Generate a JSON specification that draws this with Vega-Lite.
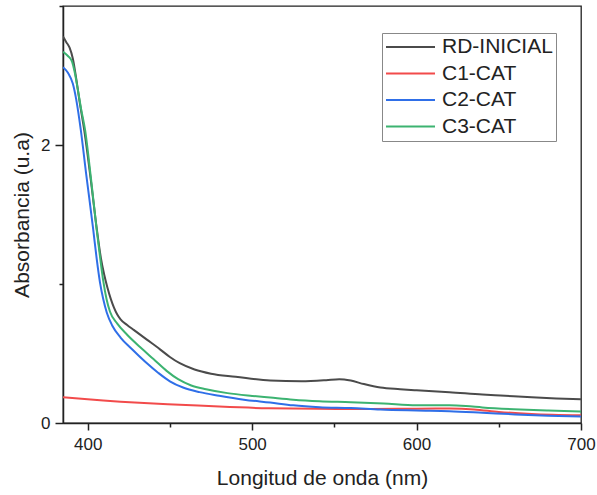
{
  "$schema": "https://vega.github.io/schema/vega-lite/v6.json",
  "autosize": "none",
  "width": 518,
  "height": 417,
  "padding": {"left": 63, "top": 6, "right": 16, "bottom": 72},
  "background": "white",
  "config": {
    "view": {"stroke": "#222", "strokeWidth": 1.3},
    "font": "Liberation Sans",
    "axis": {
      "domainColor": "#222", "domainWidth": 1.5, "tickColor": "#222", "tickWidth": 1.5,
      "labelFont": "Liberation Sans", "labelFontSize": 17, "labelColor": "#222",
      "titleFont": "Liberation Sans", "titleFontSize": 21, "titleFontWeight": "normal", "titleColor": "#222",
      "grid": false
    }
  },
  "data": {"values": [
    {"x":385,"y":2.78,"s":"RD-INICIAL"},{"x":387,"y":2.74,"s":"RD-INICIAL"},{"x":389,"y":2.70,"s":"RD-INICIAL"},{"x":391,"y":2.62,"s":"RD-INICIAL"},{"x":393,"y":2.48,"s":"RD-INICIAL"},{"x":395,"y":2.32,"s":"RD-INICIAL"},{"x":398,"y":2.10,"s":"RD-INICIAL"},{"x":402,"y":1.74,"s":"RD-INICIAL"},{"x":405.5,"y":1.40,"s":"RD-INICIAL"},{"x":408,"y":1.19,"s":"RD-INICIAL"},{"x":410,"y":1.07,"s":"RD-INICIAL"},{"x":412,"y":0.975,"s":"RD-INICIAL"},{"x":414,"y":0.895,"s":"RD-INICIAL"},{"x":416,"y":0.83,"s":"RD-INICIAL"},{"x":418,"y":0.78,"s":"RD-INICIAL"},{"x":420,"y":0.745,"s":"RD-INICIAL"},{"x":424,"y":0.705,"s":"RD-INICIAL"},{"x":428,"y":0.67,"s":"RD-INICIAL"},{"x":436,"y":0.60,"s":"RD-INICIAL"},{"x":444,"y":0.53,"s":"RD-INICIAL"},{"x":450,"y":0.475,"s":"RD-INICIAL"},{"x":456,"y":0.43,"s":"RD-INICIAL"},{"x":465,"y":0.385,"s":"RD-INICIAL"},{"x":475,"y":0.355,"s":"RD-INICIAL"},{"x":490,"y":0.333,"s":"RD-INICIAL"},{"x":511,"y":0.305,"s":"RD-INICIAL"},{"x":530,"y":0.30,"s":"RD-INICIAL"},{"x":545,"y":0.308,"s":"RD-INICIAL"},{"x":553,"y":0.315,"s":"RD-INICIAL"},{"x":560,"y":0.305,"s":"RD-INICIAL"},{"x":568,"y":0.28,"s":"RD-INICIAL"},{"x":578,"y":0.255,"s":"RD-INICIAL"},{"x":590,"y":0.243,"s":"RD-INICIAL"},{"x":600,"y":0.235,"s":"RD-INICIAL"},{"x":620,"y":0.222,"s":"RD-INICIAL"},{"x":640,"y":0.205,"s":"RD-INICIAL"},{"x":651,"y":0.198,"s":"RD-INICIAL"},{"x":670,"y":0.185,"s":"RD-INICIAL"},{"x":685,"y":0.177,"s":"RD-INICIAL"},{"x":700,"y":0.17,"s":"RD-INICIAL"},
    {"x":385,"y":0.186,"s":"C1-CAT"},{"x":400,"y":0.170,"s":"C1-CAT"},{"x":420,"y":0.153,"s":"C1-CAT"},{"x":440,"y":0.140,"s":"C1-CAT"},{"x":456,"y":0.132,"s":"C1-CAT"},{"x":480,"y":0.118,"s":"C1-CAT"},{"x":510,"y":0.106,"s":"C1-CAT"},{"x":540,"y":0.103,"s":"C1-CAT"},{"x":570,"y":0.100,"s":"C1-CAT"},{"x":600,"y":0.103,"s":"C1-CAT"},{"x":620,"y":0.104,"s":"C1-CAT"},{"x":635,"y":0.098,"s":"C1-CAT"},{"x":650,"y":0.08,"s":"C1-CAT"},{"x":670,"y":0.065,"s":"C1-CAT"},{"x":700,"y":0.055,"s":"C1-CAT"},
    {"x":385,"y":2.56,"s":"C2-CAT"},{"x":388,"y":2.52,"s":"C2-CAT"},{"x":391,"y":2.44,"s":"C2-CAT"},{"x":393,"y":2.33,"s":"C2-CAT"},{"x":395.8,"y":2.11,"s":"C2-CAT"},{"x":399,"y":1.80,"s":"C2-CAT"},{"x":403.4,"y":1.39,"s":"C2-CAT"},{"x":405.5,"y":1.18,"s":"C2-CAT"},{"x":407.5,"y":1.01,"s":"C2-CAT"},{"x":409.5,"y":0.89,"s":"C2-CAT"},{"x":411.6,"y":0.795,"s":"C2-CAT"},{"x":415,"y":0.70,"s":"C2-CAT"},{"x":420,"y":0.615,"s":"C2-CAT"},{"x":427,"y":0.53,"s":"C2-CAT"},{"x":435,"y":0.44,"s":"C2-CAT"},{"x":443,"y":0.36,"s":"C2-CAT"},{"x":450,"y":0.30,"s":"C2-CAT"},{"x":458,"y":0.255,"s":"C2-CAT"},{"x":468,"y":0.222,"s":"C2-CAT"},{"x":480,"y":0.196,"s":"C2-CAT"},{"x":495,"y":0.168,"s":"C2-CAT"},{"x":511,"y":0.147,"s":"C2-CAT"},{"x":525,"y":0.127,"s":"C2-CAT"},{"x":541,"y":0.114,"s":"C2-CAT"},{"x":560,"y":0.108,"s":"C2-CAT"},{"x":578,"y":0.097,"s":"C2-CAT"},{"x":600,"y":0.09,"s":"C2-CAT"},{"x":620,"y":0.085,"s":"C2-CAT"},{"x":640,"y":0.074,"s":"C2-CAT"},{"x":660,"y":0.062,"s":"C2-CAT"},{"x":680,"y":0.053,"s":"C2-CAT"},{"x":700,"y":0.047,"s":"C2-CAT"},
    {"x":385,"y":2.67,"s":"C3-CAT"},{"x":388,"y":2.64,"s":"C3-CAT"},{"x":390.5,"y":2.60,"s":"C3-CAT"},{"x":392,"y":2.53,"s":"C3-CAT"},{"x":394,"y":2.40,"s":"C3-CAT"},{"x":396,"y":2.26,"s":"C3-CAT"},{"x":398.4,"y":2.11,"s":"C3-CAT"},{"x":402,"y":1.76,"s":"C3-CAT"},{"x":405.5,"y":1.39,"s":"C3-CAT"},{"x":408,"y":1.15,"s":"C3-CAT"},{"x":409.5,"y":1.02,"s":"C3-CAT"},{"x":411.5,"y":0.89,"s":"C3-CAT"},{"x":413.6,"y":0.80,"s":"C3-CAT"},{"x":418,"y":0.715,"s":"C3-CAT"},{"x":424,"y":0.635,"s":"C3-CAT"},{"x":432,"y":0.545,"s":"C3-CAT"},{"x":440,"y":0.46,"s":"C3-CAT"},{"x":448,"y":0.375,"s":"C3-CAT"},{"x":455,"y":0.315,"s":"C3-CAT"},{"x":463,"y":0.27,"s":"C3-CAT"},{"x":472,"y":0.243,"s":"C3-CAT"},{"x":485,"y":0.215,"s":"C3-CAT"},{"x":500,"y":0.195,"s":"C3-CAT"},{"x":511,"y":0.183,"s":"C3-CAT"},{"x":525,"y":0.168,"s":"C3-CAT"},{"x":541,"y":0.157,"s":"C3-CAT"},{"x":560,"y":0.15,"s":"C3-CAT"},{"x":580,"y":0.14,"s":"C3-CAT"},{"x":600,"y":0.128,"s":"C3-CAT"},{"x":620,"y":0.127,"s":"C3-CAT"},{"x":630,"y":0.122,"s":"C3-CAT"},{"x":640,"y":0.112,"s":"C3-CAT"},{"x":663,"y":0.097,"s":"C3-CAT"},{"x":680,"y":0.09,"s":"C3-CAT"},{"x":700,"y":0.083,"s":"C3-CAT"}
  ]},
  "mark": {"type": "line", "strokeWidth": 2, "interpolate": "monotone", "clip": true},
  "encoding": {
    "x": {
      "field": "x", "type": "quantitative",
      "scale": {"domain": [385, 700], "nice": false, "zero": false},
      "axis": {
        "title": "Longitud de onda (nm)",
        "values": [400, 450, 500, 550, 600, 650, 700],
        "labelExpr": "datum.value % 100 === 0 ? datum.label : ''",
        "tickSize": {"condition": {"test": "datum.value % 100 === 0", "value": 7}, "value": 4},
        "labelPadding": 6, "titlePadding": 15, "labelFlush": false
      }
    },
    "y": {
      "field": "y", "type": "quantitative",
      "scale": {"domain": [0, 3], "nice": false},
      "axis": {
        "title": "Absorbancia (u.a)",
        "values": [0, 1, 2, 3],
        "labelExpr": "datum.value % 2 === 0 && datum.value < 3 ? datum.label : ''",
        "tickSize": {"condition": {"test": "datum.value % 2 === 0", "value": 8}, "value": 4},
        "labelPadding": 5, "titlePadding": 8, "labelFlush": false
      }
    },
    "color": {
      "field": "s", "type": "nominal",
      "scale": {"domain": ["RD-INICIAL", "C1-CAT", "C2-CAT", "C3-CAT"], "range": ["#4b4b4b", "#f24b4b", "#2f6fe8", "#3cb371"]},
      "legend": {
        "title": null, "orient": "none", "legendX": 319, "legendY": 27,
        "strokeColor": "#888", "padding": 3,
        "labelFont": "Liberation Sans", "labelFontSize": 21, "labelColor": "#222",
        "symbolType": "stroke", "symbolSize": 2401, "symbolStrokeWidth": 2,
        "clipHeight": 22,
        "labelOffset": 6, "rowPadding": 4.5
      }
    }
  }
}
